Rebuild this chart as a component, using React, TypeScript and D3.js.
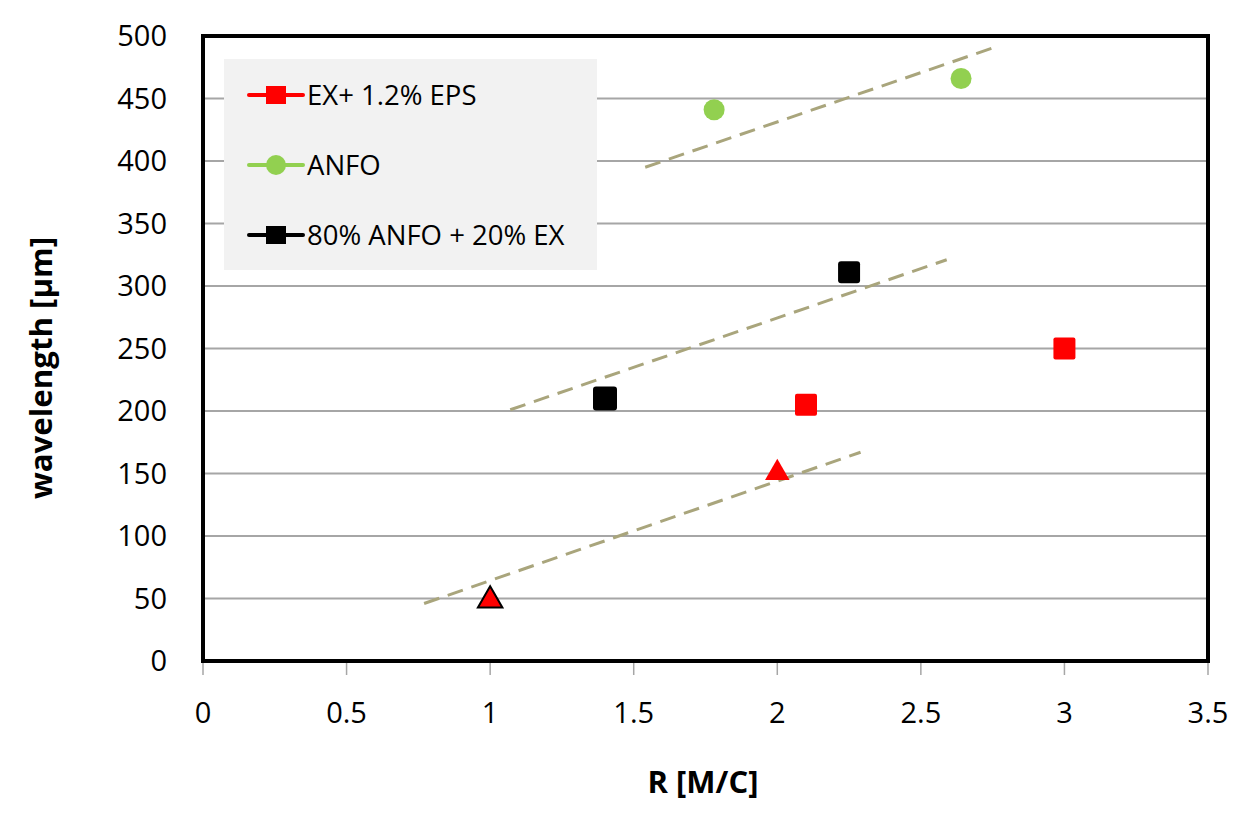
import React from 'react';
import * as d3 from 'd3';

// tick values
const xTicks = [0, 0.5, 1, 1.5, 2, 2.5, 3, 3.5];
const yTicks = [0, 50, 100, 150, 200, 250, 300, 350, 400, 450, 500];

// series
const epsX = [2.1, 3.0];
const epsY = [205, 250];
const triX = [1, 2];
const triY = [50, 152];
const anfoX = [1.78, 2.64];
const anfoY = [441, 466];
const mixX = [1.4, 2.25];
const mixY = [210, 311];

// dashed guide lines (start / end)
const trendAnfo = [[1.54, 395], [2.77, 492]];
const trendMix = [[1.07, 201], [2.59, 321]];
const trendEps = [[0.77, 46], [2.29, 167]];

const legendNames = ['EX+ 1.2% EPS', 'ANFO', '80% ANFO + 20% EX'];
const legendColors = ['#FF0000', '#92D050', '#000000'];

const W = 1239;
const H = 819;
const font = "'Open Sans', 'DejaVu Sans', sans-serif";

const App = () => {
    const x = d3.scaleLinear().domain([0, 3.5]).range([203, 1208]);
    const y = d3.scaleLinear().domain([0, 500]).range([661, 36]);
    const line = d3.line<number[]>().x(d => x(d[0])).y(d => y(d[1]));
    const tri = d3.symbol().type(d3.symbolTriangle).size(260)();

    const trends = [trendAnfo, trendMix, trendEps];

    return (
        <svg width={W} height={H} style={{ position: 'absolute', left: 0, top: 0, background: '#fff' }}>
            {/* horizontal gridlines */}
            {yTicks.map(t => (
                <line key={'g' + t} x1={x(0)} x2={x(3.5)} y1={y(t)} y2={y(t)} stroke="#A6A6A6" strokeWidth={2} />
            ))}
            {/* x ticks below the axis */}
            {xTicks.map(t => (
                <line key={'xt' + t} x1={x(t)} x2={x(t)} y1={y(0)} y2={y(0) + 14} stroke="#A6A6A6" strokeWidth={1.5} />
            ))}
            {/* plot border */}
            <rect x={x(0)} y={y(500)} width={x(3.5) - x(0)} height={y(0) - y(500)} fill="none" stroke="#000" strokeWidth={4} />

            {/* y tick labels */}
            {yTicks.map(t => (
                <text key={'yl' + t} x={167} y={y(t)} dy="0.36em" textAnchor="end" fontFamily={font} fontSize={29} fill="#000">{t}</text>
            ))}
            {/* x tick labels */}
            {xTicks.map(t => (
                <text key={'xl' + t} x={x(t)} y={723} textAnchor="middle" fontFamily={font} fontSize={29} fill="#000">{t}</text>
            ))}
            <text x={703} y={793} textAnchor="middle" fontFamily={font} fontWeight="bold" fontSize={31} fill="#000">R [M/C]</text>
            <text transform="translate(52,368) rotate(-90)" textAnchor="middle" fontFamily={font} fontWeight="bold" fontSize={30}
                textLength={262} lengthAdjust="spacingAndGlyphs" fill="#000">wavelength [µm]</text>

            {/* dashed guides */}
            {trends.map((tr, i) => (
                <path key={'tr' + i} d={line(tr) || ''} fill="none" stroke="#A9A57C" strokeWidth={3} strokeDasharray="16,9" />
            ))}

            {/* EX + 1.2% EPS squares */}
            {epsX.map((v, i) => (
                <rect key={'e' + i} x={x(v) - 11} y={y(epsY[i]) - 11} width={22} height={22} rx={2} fill="#FF0000" />
            ))}
            {/* triangles */}
            {triX.map((v, i) => (
                <path key={'t' + i} d={tri || ''} transform={`translate(${x(v)},${y(triY[i]) + 2})`} fill="#FF0000"
                    stroke={i === 0 ? '#000' : 'none'} strokeWidth={2} />
            ))}
            {/* ANFO circles */}
            {anfoX.map((v, i) => (
                <circle key={'a' + i} cx={x(v)} cy={y(anfoY[i])} r={10.5} fill="#92D050" />
            ))}
            {/* 80% ANFO + 20% EX squares */}
            {mixX.map((v, i) => {
                const s = i === 0 ? 24 : 22;
                return <rect key={'m' + i} x={x(v) - s / 2} y={y(mixY[i]) - s / 2} width={s} height={s} rx={3} fill="#000" />;
            })}

            {/* legend */}
            <rect x={224} y={59} width={373} height={211} fill="#F2F2F2" />
            {legendNames.map((name, i) => {
                const ly = 95 + i * 70;
                return (
                    <g key={'lg' + i}>
                        <line x1={249} x2={303} y1={ly} y2={ly} stroke={legendColors[i]} strokeWidth={4} strokeLinecap="round" />
                        {i === 1
                            ? <circle cx={276} cy={ly} r={10} fill={legendColors[i]} />
                            : <rect x={266} y={ly - 9} width={20} height={18} fill={legendColors[i]} />}
                        <text x={307} y={ly} dy="0.36em" fontFamily={font} fontSize={27.5} fill="#000">{name}</text>
                    </g>
                );
            })}
        </svg>
    );
};

export default App;
